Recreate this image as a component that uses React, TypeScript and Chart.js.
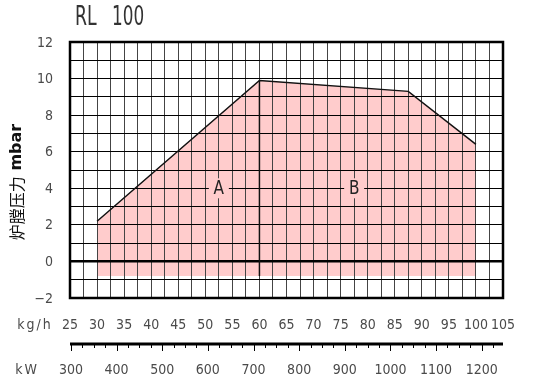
import React, { useEffect, useRef } from 'react';
import { Chart, registerables } from 'chart.js';

Chart.register(...registerables);

// ---- data ----
const envelopeX = [30, 60, 87.5, 100];
const envelopeY = [2.2, 9.9, 9.3, 6.4];
const envelopeBase = -0.8;
const dividerX = [60, 60];
const dividerY = [-0.8, 9.9];
const regionLabels = ['A', 'B'];
const regionX = [52.5, 77.5];
const regionY = [4, 4];
const kgTicks = [25, 30, 35, 40, 45, 50, 55, 60, 65, 70, 75, 80, 85, 90, 95, 100, 105];
const yTicks = [-2, 0, 2, 4, 6, 8, 10, 12];
const kwTicks = [300, 400, 500, 600, 700, 800, 900, 1000, 1100, 1200];
const kwRange = [297.9, 1246.7];
const titleParts = ['RL', '100'];
const yTitleCjk = '炉膛压力';
const yTitleUnit = 'mbar';
const xUnitKg = 'kg/h';
const xUnitKw = 'kW';

const PINK = 'rgb(255,204,204)';
const FONT = '"DejaVu Sans Condensed", "DejaVu Sans", sans-serif';

const labelsPlugin = {
  id: 'customLabels',
  afterDraw(chart: any) {
    const { ctx, chartArea, scales } = chart;
    const xs = scales.x;
    const ys = scales.y;
    const ks = scales.kw;
    ctx.save();

    // plot border
    ctx.strokeStyle = '#000';
    ctx.lineWidth = 2.5;
    ctx.strokeRect(chartArea.left, chartArea.top, chartArea.right - chartArea.left, chartArea.bottom - chartArea.top);

    // region labels
    ctx.font = `20px ${FONT}`;
    ctx.textAlign = 'center';
    ctx.textBaseline = 'middle';
    regionLabels.forEach((t, i) => {
      const px = xs.getPixelForValue(regionX[i]);
      const py = ys.getPixelForValue(regionY[i]);
      ctx.fillStyle = PINK;
      ctx.fillRect(px - 10, py - 10, 20, 20);
      ctx.save();
      ctx.translate(px, py + 1);
      ctx.scale(0.85, 1);
      ctx.fillStyle = '#222';
      ctx.fillText(t, 0, 0);
      ctx.restore();
    });

    // y tick labels
    ctx.font = `14px ${FONT}`;
    ctx.fillStyle = '#4a4a4a';
    ctx.textAlign = 'right';
    yTicks.forEach((v) => {
      const label = v < 0 ? '\u2212' + Math.abs(v) : String(v);
      ctx.fillText(label, 53, ys.getPixelForValue(v) + 1);
    });

    // kg/h tick labels
    ctx.textAlign = 'center';
    kgTicks.forEach((v) => {
      ctx.fillText(String(v), xs.getPixelForValue(v), 325);
    });
    (ctx as any).letterSpacing = '2px';
    ctx.fillText(xUnitKg, 35, 325);
    (ctx as any).letterSpacing = '0px';

    // kW axis
    const axY = 344;
    ctx.strokeStyle = '#000';
    ctx.lineWidth = 3;
    ctx.beginPath();
    ctx.moveTo(chartArea.left, axY);
    ctx.lineTo(chartArea.right, axY);
    ctx.stroke();
    ctx.lineWidth = 1;
    for (let kw = kwTicks[0]; kw <= kwRange[1]; kw += 25) {
      const px = Math.round(ks.getPixelForValue(kw)) + 0.5;
      const len = kw % 100 === 0 ? 7 : 4;
      ctx.beginPath();
      ctx.moveTo(px, axY);
      ctx.lineTo(px, axY + len);
      ctx.stroke();
    }
    kwTicks.forEach((v) => {
      ctx.fillText(String(v), ks.getPixelForValue(v), 370);
    });
    (ctx as any).letterSpacing = '2px';
    ctx.fillText(xUnitKw, 27, 370);
    (ctx as any).letterSpacing = '0px';

    // title (narrow lettering)
    ctx.font = `26px ${FONT}`;
    ctx.fillStyle = '#333';
    ctx.textAlign = 'left';
    ctx.save();
    ctx.translate(75, 18);
    ctx.scale(0.74, 1);
    ctx.fillText(titleParts[0], 0, 0);
    ctx.restore();
    ctx.save();
    ctx.translate(112, 18);
    ctx.scale(0.72, 1);
    ctx.fillText(titleParts[1], 0, 0);
    ctx.restore();

    // y axis title (rotated)
    ctx.translate(17, 182);
    ctx.rotate(-Math.PI / 2);
    ctx.fillStyle = '#111';
    ctx.font = `16px "Noto Sans CJK SC", sans-serif`;
    const w1 = ctx.measureText(yTitleCjk).width;
    ctx.font = `bold 16px "DejaVu Sans", sans-serif`;
    const w2 = ctx.measureText(' ' + yTitleUnit).width;
    const start = -(w1 + w2) / 2;
    ctx.textAlign = 'left';
    ctx.font = `16px "Noto Sans CJK SC", sans-serif`;
    ctx.fillText(yTitleCjk, start, 0);
    ctx.font = `bold 16px "DejaVu Sans", sans-serif`;
    ctx.fillText(' ' + yTitleUnit, start + w1, 0);

    ctx.restore();
  },
};

export default function App() {
  const ref = useRef<HTMLCanvasElement | null>(null);
  useEffect(() => {
    if (!ref.current) return;
    const chart = new Chart(ref.current, {
      type: 'line',
      data: {
        datasets: [
          {
            data: envelopeX.map((x, i) => ({ x, y: envelopeY[i] })),
            borderColor: '#111',
            borderWidth: 1.5,
            backgroundColor: PINK,
            fill: { value: envelopeBase },
            pointRadius: 0,
            tension: 0,
          },
          {
            data: dividerX.map((x, i) => ({ x, y: dividerY[i] })),
            borderColor: '#111',
            borderWidth: 1.5,
            fill: false,
            pointRadius: 0,
          },
        ],
      },
      options: {
        responsive: false,
        animation: false,
        layout: { padding: { left: 70, top: 42, right: 30, bottom: 91 } },
        plugins: {
          legend: { display: false },
          tooltip: { enabled: false },
          filler: { drawTime: 'beforeDraw' } as any,
        },
        scales: {
          x: {
            type: 'linear',
            min: 25,
            max: 105,
            ticks: { display: false, stepSize: 2.5 },
            grid: { color: '#444', lineWidth: 1, drawTicks: false },
            border: { display: false },
          },
          kw: {
            type: 'linear',
            axis: 'x',
            position: 'bottom',
            display: false,
            min: kwRange[0],
            max: kwRange[1],
          },
          y: {
            type: 'linear',
            min: -2,
            max: 12,
            ticks: { display: false, stepSize: 1 },
            grid: {
              color: '#000',
              lineWidth: (c: any) => (c.tick && c.tick.value === 0 ? 2.5 : 1),
              drawTicks: false,
            },
            border: { display: false },
          },
        },
      },
      plugins: [labelsPlugin],
    });
    return () => chart.destroy();
  }, []);
  return (
    <div style={{ position: 'fixed', left: 0, top: 0, width: 533, height: 389, background: '#fff' }}>
      <canvas ref={ref} width={533} height={389} />
    </div>
  );
}
